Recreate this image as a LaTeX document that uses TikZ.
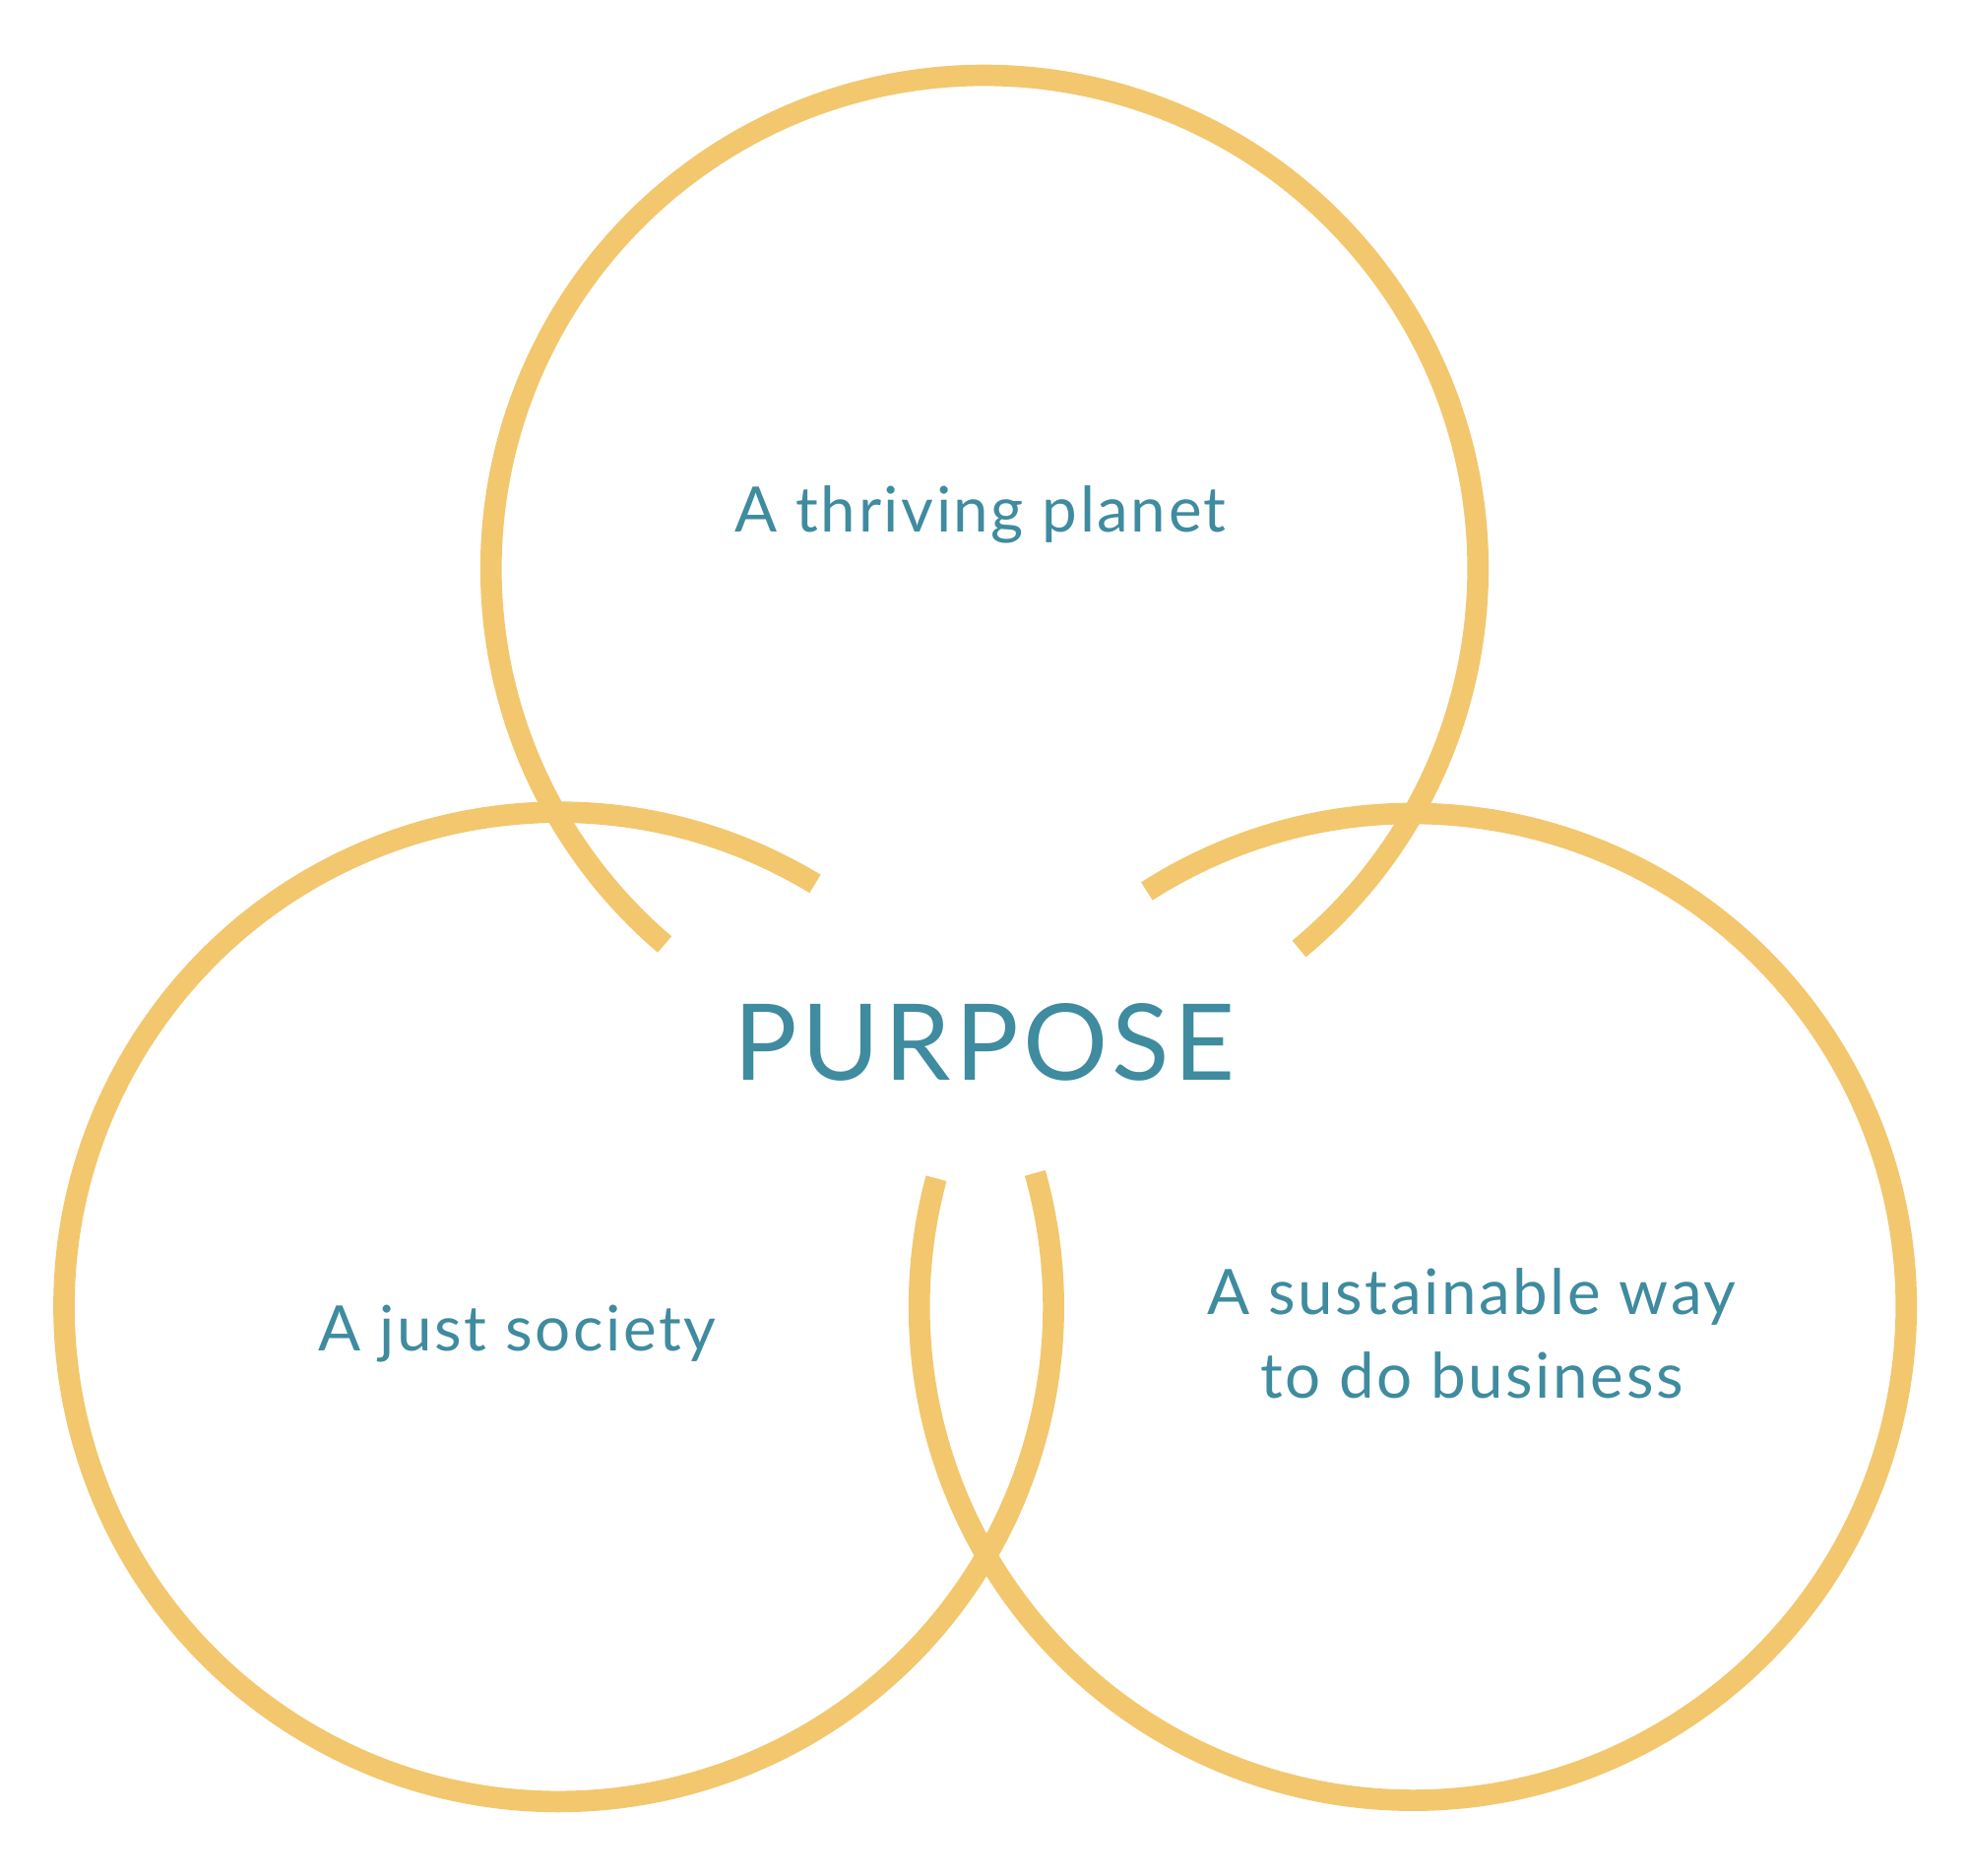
\documentclass[tikz,border=0pt]{standalone}
\usepackage{fontspec}
\setmainfont[LetterSpace=4]{Lato}
\definecolor{ring}{HTML}{F2C76E}
\definecolor{txt}{HTML}{3F8B9F}
\begin{document}
\begin{tikzpicture}[x=0.01cm,y=-0.01cm,
  ringline/.style={draw=ring,line width=0.17cm},
  lbl/.style={text=txt,font=\fontsize{14.2}{19}\selectfont,align=center}]
\useasboundingbox (0,0) rectangle (1568,1494);
\draw[ringline] (784,453) ++(50.4:393) arc[start angle=50.4,end angle=-229.6,radius=393];
\draw[ringline] (445,1041) ++(-58.8:394) arc[start angle=-58.8,end angle=-375.7,radius=394];
\draw[ringline] (1125,1041) ++(-122.6:393) arc[start angle=-122.6,end angle=195.1,radius=393];
\node[lbl] (planet) at (781,410) {A thriving planet};
\node[lbl] (society) at (412,1062) {A just society};
\node[lbl] (business) at (1172,1062) {A sustainable way\\to do business};
\node[text=txt,font=\fontsize{24}{30}\selectfont] (purpose) at (784,830) {PURPOSE};
\end{tikzpicture}
\end{document}
